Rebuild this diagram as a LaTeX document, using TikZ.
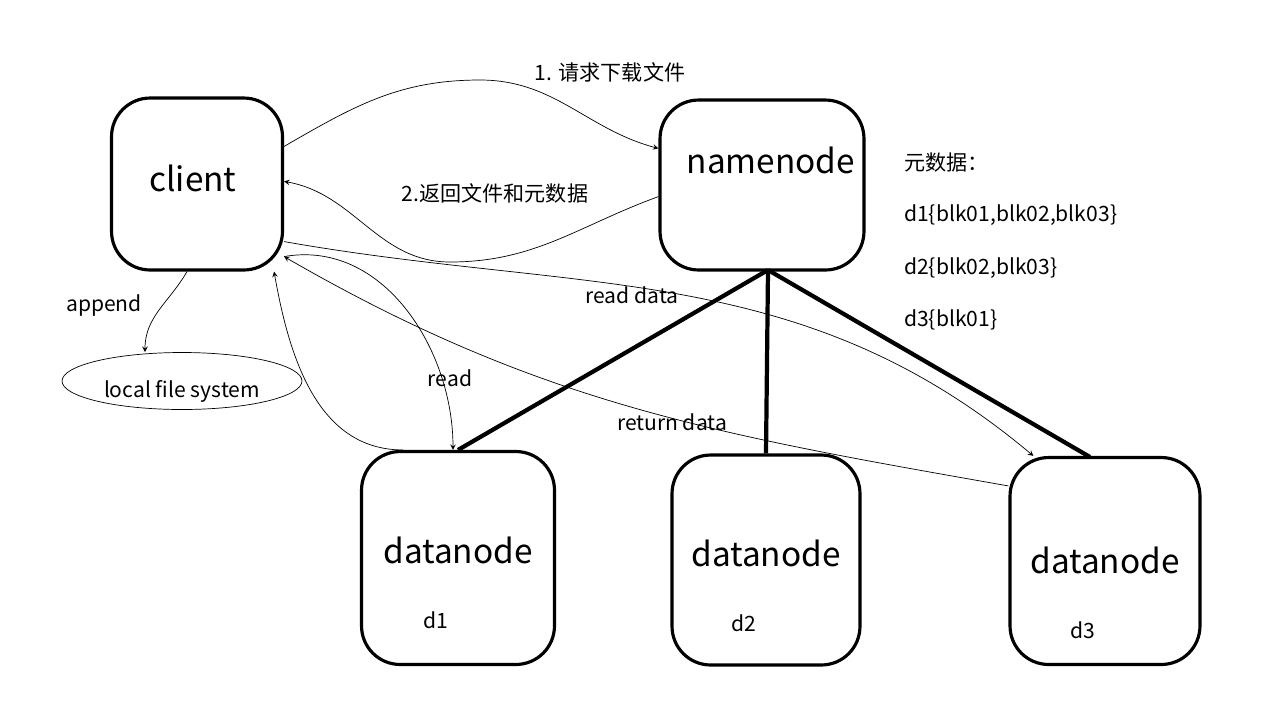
\documentclass[tikz,border=0pt]{standalone}
\usepackage{fontspec}
\setmainfont{Noto Sans CJK SC}
\usetikzlibrary{shapes.geometric}
\begin{document}
\begin{tikzpicture}[x=0.02cm,y=-0.02cm]
    % Define styles
    \tikzset{
        server/.style={rectangle, rounded corners=22pt, draw, line width=1.8pt},
        link/.style={line width=2.4pt},
        flow/.style={->, >=stealth, thin},
        lbl/.style={font=\fontsize{12}{14}\selectfont},
    }
    \useasboundingbox (0,0) rectangle (1261,701);

    % Boxes
    \node[server, minimum width=3.42cm, minimum height=3.44cm] (client) at (197,184) {};
    \node[font=\fontsize{19}{22}\selectfont] at (193,178) {client};
    \node[server, minimum width=4.08cm, minimum height=3.4cm] (namenode) at (762,185) {};
    \node[font=\fontsize{19}{22}\selectfont] at (771,160) {namenode};
    \node[server, minimum width=3.86cm, minimum height=4.26cm] (dn1) at (458,558) {};
    \node[server, minimum width=3.76cm, minimum height=4.2cm] (dn2) at (766,560) {};
    \node[server, minimum width=3.8cm, minimum height=4.14cm] (dn3) at (1105,561) {};
    \foreach \n/\x/\y/\t in {dn1/458/550/d1, dn2/766/553/d2, dn3/1105/560/d3} {
        \node[font=\fontsize{19}{22}\selectfont] at (\x,\y) {datanode};
        \node[lbl] at (\x-22,\y+70) {\t};
    }
    \node[draw, ellipse, minimum width=4.8cm, minimum height=1.14cm] (lfs) at (182,381) {};
    \node[lbl] at (182,391) {local file system};

    % Metadata
    \node[lbl, anchor=west] at (898,163) {元数据：};
    \node[lbl, anchor=west] at (898,215) {d1\{blk01,blk02,blk03\}};
    \node[lbl, anchor=west] at (898,268) {d2\{blk02,blk03\}};
    \node[lbl, anchor=west] at (898,320) {d3\{blk01\}};

    % Namenode to datanodes
    \coordinate (nb) at (768,270);
    \coordinate (d3top) at (1090,457);
    \draw[link] (nb) -- (dn1.north);
    \draw[link] (nb) -- (dn2.north);
    \draw[link] (nb) -- (d3top);

    % Requests
    \coordinate (arctop) at (480,80);
    \draw[flow] ([yshift=-1cm]client.north east) to[out=30,in=180] (arctop) to[out=0,in=165] ([yshift=-1cm]namenode.north west);
    \node[lbl] at (610,72) {1. 请求下载文件};
    \draw[flow] ([yshift=1.5cm]namenode.south west) to[out=200,in=0] (450,262) to[out=180,in=-10] ([yshift=-1.7cm]client.north east);
    \node[lbl] at (495,193) {2.返回文件和元数据};
    \draw[flow] ([xshift=-0.2cm]client.south) to[out=240,in=90] (145,352);
    \node[lbl] at (104,306) {append};
    \draw[flow] ([yshift=0.3cm]client.south east) to[out=10,in=90] ([xshift=-0.1cm]dn1.north);
    \node[lbl] at (450,378) {read};
    \draw[flow] ([xshift=-1.1cm]dn1.north) to[out=180,in=-80] ([xshift=-0.2cm]client.south east);
    \draw[flow] ([yshift=0.6cm]client.south east) to[out=-10,in=140] ([xshift=0.5cm]dn3.north west);
    \node[lbl] at (632,295) {read data};
    \draw[flow] ([yshift=-0.6cm]dn3.north west) to[out=170,in=-30] ([yshift=0.3cm]client.south east);
    \node[lbl] at (672,422) {return data};
\end{tikzpicture}
\end{document}
